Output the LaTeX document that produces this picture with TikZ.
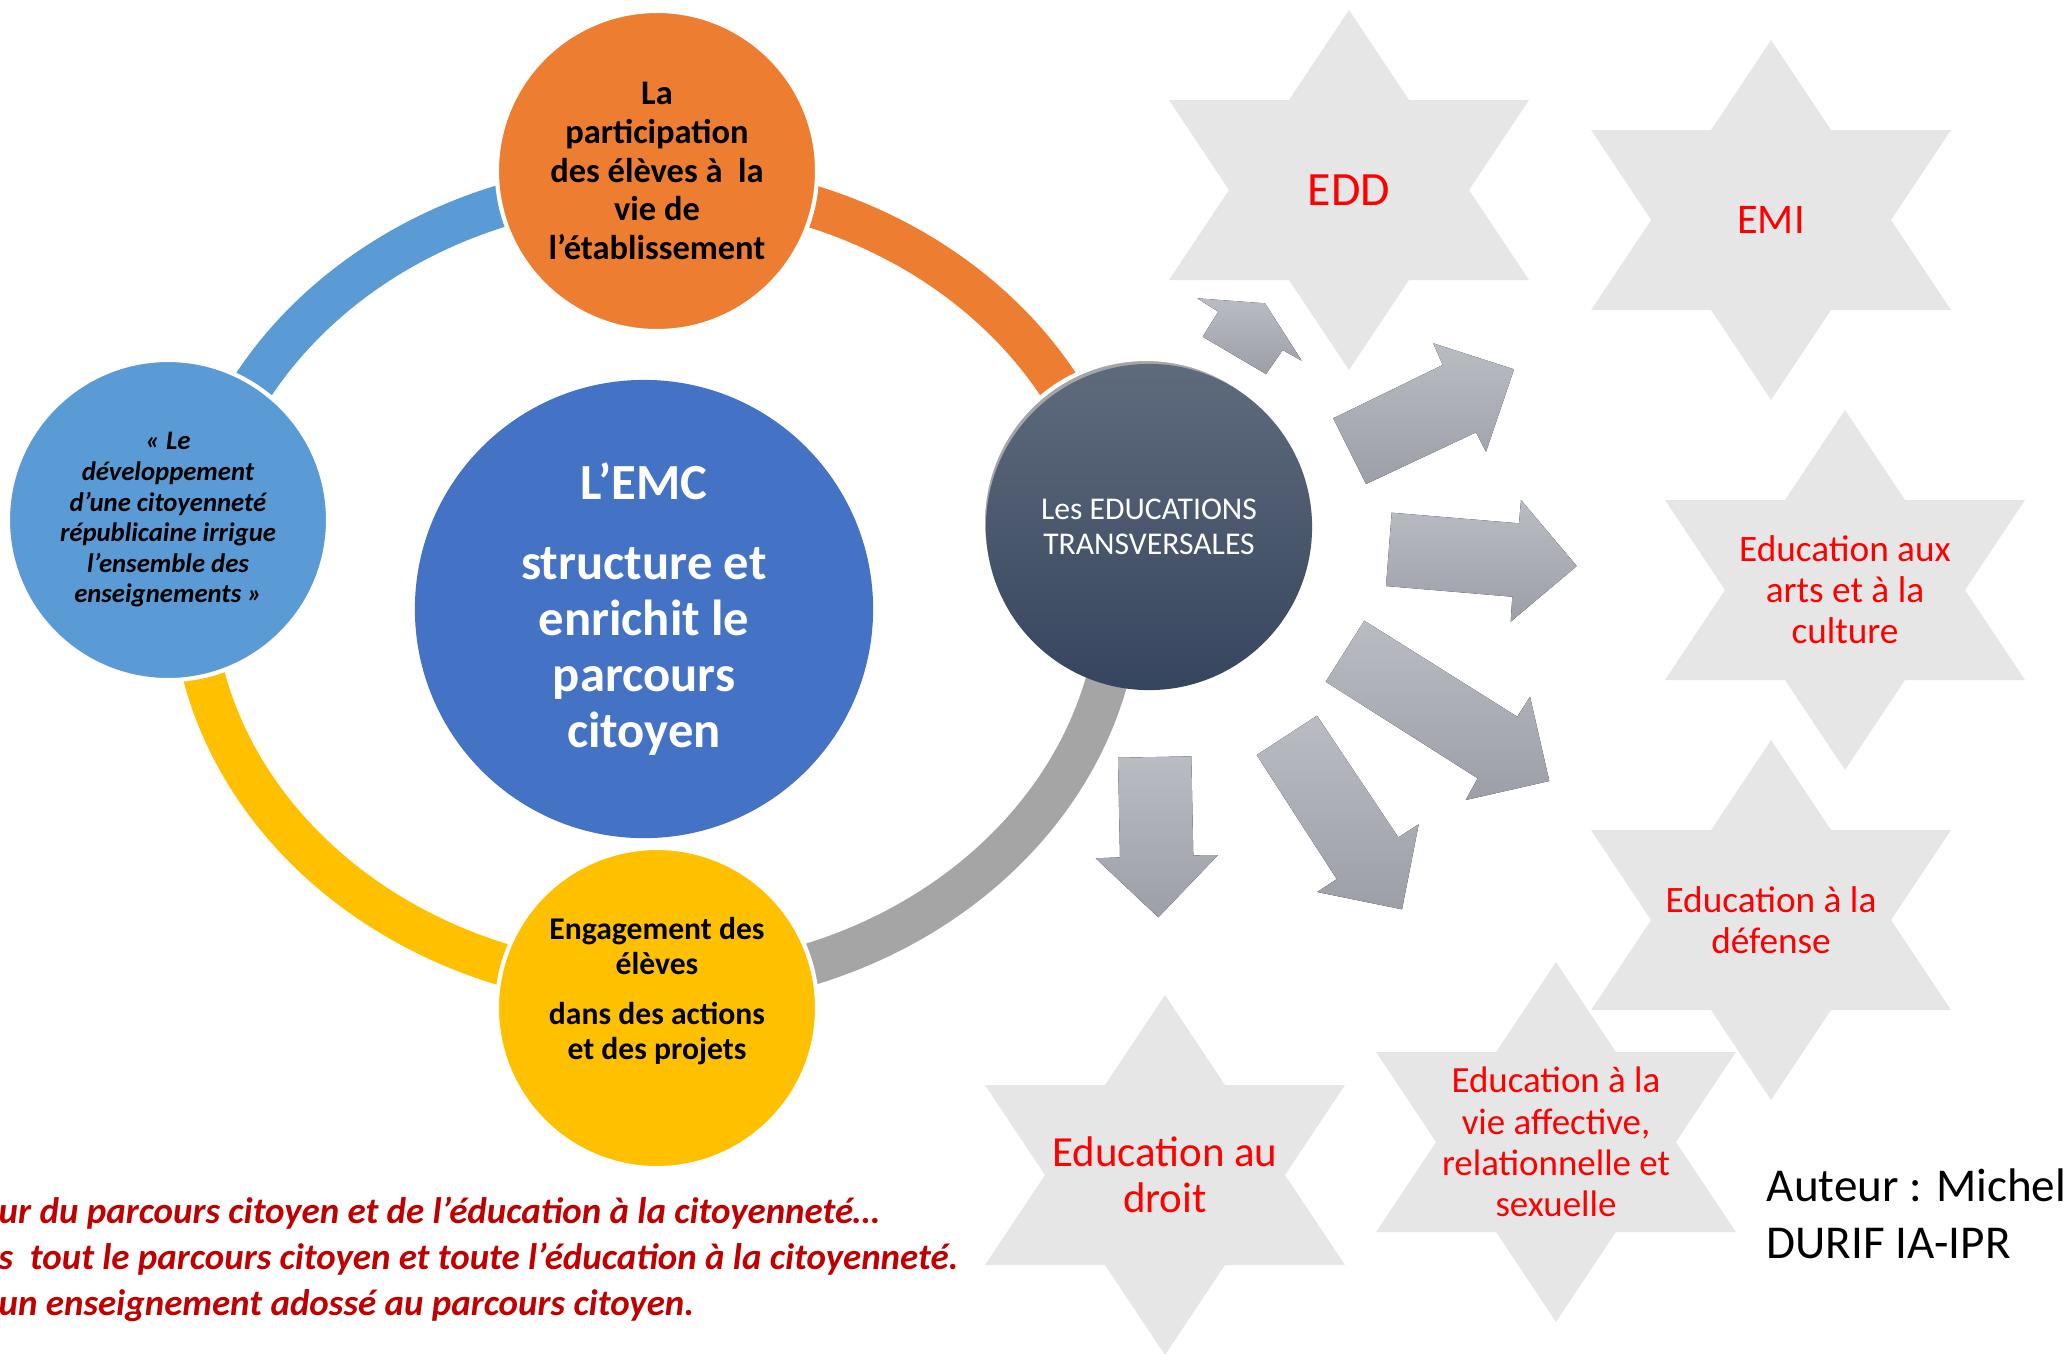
\documentclass[tikz,border=0pt]{standalone}
\usepackage{fontspec}
\setmainfont{Carlito}
\usetikzlibrary{positioning,calc}

\definecolor{emcblue}{HTML}{4472C4}
\definecolor{ringblue}{HTML}{5B9BD5}
\definecolor{ringorange}{HTML}{ED7D31}
\definecolor{ringgray}{HTML}{A5A5A5}
\definecolor{ringyellow}{HTML}{FFC000}
\definecolor{stargray}{HTML}{E6E6E6}
\definecolor{starred}{HTML}{FF0000}
\definecolor{notered}{HTML}{C00000}
\definecolor{slatetop}{HTML}{5F6B7D}
\definecolor{slatebot}{HTML}{36455E}
\definecolor{arrtop}{HTML}{B9BCC3}
\definecolor{arrbot}{HTML}{9C9FA7}

\tikzset{
  bubble/.style={circle, draw=white, line width=1.2pt, inner sep=0pt, align=center},
  ringarc/.style={line width=0.42cm},
  startxt/.style={text=starred, align=center, inner sep=0pt},
  blkarrow/.style={top color=arrtop, bottom color=arrbot}
}

\begin{document}
\begin{tikzpicture}[x=0.01cm,y=-0.01cm]
\useasboundingbox (0,0) rectangle (2066,1353);
\coordinate (ringc) at (656,585);
\draw [ringarc, ringblue] (ringc) ++(180:464 and 402) arc [start angle=180, end angle=270, x radius=464, y radius=402];
\draw [ringarc, ringorange] (ringc) ++(270:464 and 402) arc [start angle=270, end angle=360, x radius=464, y radius=402];
\draw [ringarc, ringgray] (ringc) ++(0:464 and 402) arc [start angle=0, end angle=90, x radius=464, y radius=402];
\draw [ringarc, ringyellow] (ringc) ++(90:464 and 402) arc [start angle=90, end angle=180, x radius=464, y radius=402];
\node [bubble, fill=emcblue, draw=none, minimum size=4.58cm, text=white, font=\bfseries\fontsize{14.4}{15.9}\selectfont] (emc) at (644,609) {L’EMC\\[7pt]structure et\\enrichit le\\parcours\\citoyen};
\node [bubble, fill=ringorange, minimum size=3.2cm, font=\bfseries\fontsize{9.8}{11}\selectfont] (vie) at (657,171) {La\\participation\\des élèves à~ la\\vie de\\l’établissement};
\node [bubble, fill=ringblue, minimum size=3.2cm, font=\bfseries\itshape\fontsize{7.6}{8.7}\selectfont] (citoy) at (168,520) {« Le\\développement\\d’une citoyenneté\\républicaine irrigue\\l’ensemble des\\enseignements »};
\node [bubble, fill=ringyellow, minimum size=3.2cm] (engag) at (657,1008) {};
\node [align=center, inner sep=0pt, font=\bfseries\fontsize{9}{10}\selectfont] (engagtxt) at ([yshift=0.17cm]engag.center) {Engagement des\\élèves\\[4pt]dans des actions\\et des projets};
\node [circle, fill=ringgray, draw=white, line width=1.2pt, minimum size=3.26cm] (edushadow) at (1146,522) {};
\node [circle, top color=slatetop, bottom color=slatebot, minimum size=3.26cm, inner sep=0pt, text=white, align=center, font=\fontsize{9}{10}\selectfont] (edutr) at (1149,527) {Les EDUCATIONS\\TRANSVERSALES};
\foreach \sx/\sy in {1349/190, 1771/220, 1845/590, 1771/920, 1556/1142, 1165/1175}
  \fill [stargray, shift={(\sx,\sy)}] (0,-180) -- (180,90) -- (-180,90) -- cycle (0,180) -- (-180,-90) -- (180,-90) -- cycle;
\fill [blkarrow] (1202.7,336.7) -- (1266,374) -- (1282.7,350) -- (1301.7,360.7) -- (1265,303.3) -- (1197.3,298.3) -- (1218.3,311.7) -- cycle;
\fill [blkarrow] (1333.3,418.3) -- (1366,484) -- (1476,432.3) -- (1486,451.7) -- (1514,369.3) -- (1433.3,343.3) -- (1442.7,365) -- cycle;
\fill [blkarrow] (1391.7,512.7) -- (1519,523.3) -- (1521,500) -- (1576.7,566) -- (1510.7,621.7) -- (1512.3,596.7) -- (1386,586) -- cycle;
\fill [blkarrow] (1364.3,620.7) -- (1517.3,716.7) -- (1530,696.7) -- (1549.3,781) -- (1465.7,800) -- (1477.7,778.3) -- (1325.7,681.7) -- cycle;
\fill [blkarrow] (1317,715.7) -- (1398.3,837.3) -- (1418.7,824.3) -- (1402,909.3) -- (1317.3,892) -- (1336.7,879) -- (1256.7,755) -- cycle;
\fill [blkarrow] (1118,757.7) -- (1191.3,756.3) -- (1193.3,855.3) -- (1218,855) -- (1158.3,917.3) -- (1095.7,858.3) -- (1120,857.3) -- cycle;
\node [startxt, font=\fontsize{13.6}{16}\selectfont] (edd) at (1349,190) {EDD};
\node [startxt, font=\fontsize{12}{14}\selectfont] (emi) at (1771,220) {EMI};
\node [startxt, font=\fontsize{10.6}{11.7}\selectfont] (arts) at (1845,590) {Education aux\\arts et à la\\culture};
\node [startxt, font=\fontsize{10.6}{11.7}\selectfont] (defense) at (1771,920) {Education à la\\défense};
\node [startxt, font=\fontsize{10.5}{11.7}\selectfont] (affect) at (1556,1142) {Education à la\\vie affective,\\relationnelle et\\sexuelle};
\node [startxt, font=\fontsize{12.2}{13}\selectfont] (droit) at (1165,1175) {Education au\\droit};
\node [anchor=base west, align=left, inner sep=0pt, font=\fontsize{13.4}{16.2}\selectfont] (auteur) at (1766,1258) {Auteur : Michel\\DURIF IA-IPR};
\node [anchor=base west, align=left, inner sep=0pt, text=notered, font=\bfseries\itshape\fontsize{10.5}{13}\selectfont] (note) at (-2,1315) {ur du parcours citoyen et de l’éducation à la citoyenneté…\\s~ tout le parcours citoyen et toute l’éducation à la citoyenneté.\\un enseignement adossé au parcours citoyen.};
\end{tikzpicture}
\end{document}
